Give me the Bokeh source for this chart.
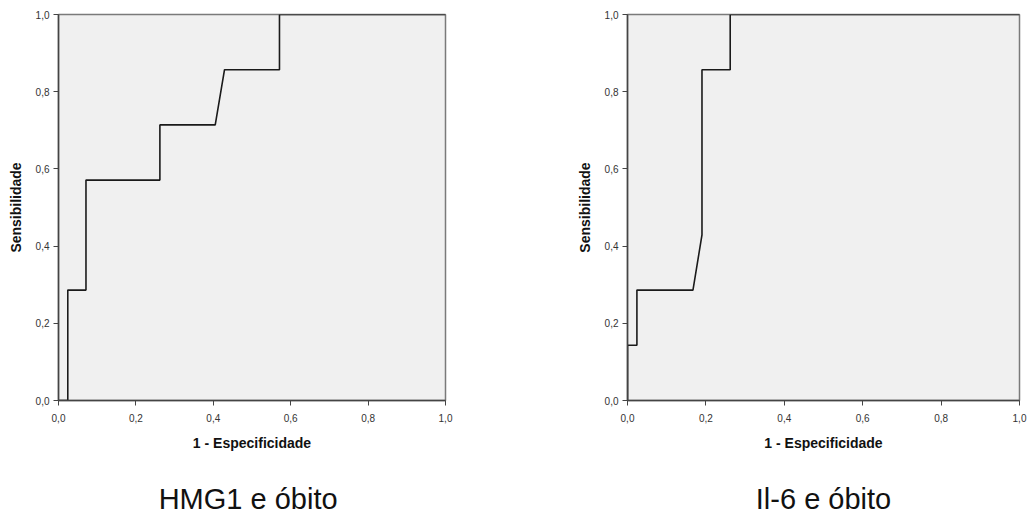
from bokeh.plotting import figure
from bokeh.layouts import row, column
from bokeh.models import Range1d, FixedTicker, CustomJSTickFormatter
from bokeh.core.properties import value
from bokeh.embed import file_html
from bokeh.resources import INLINE

# ---- data ----
tick_values = [0.0, 0.2, 0.4, 0.6, 0.8, 1.0]

hmg1_fpr = [0.0, 0.024, 0.024, 0.071, 0.071, 0.262, 0.262, 0.405, 0.429, 0.571, 0.571, 1.0]
hmg1_tpr = [0.0, 0.0, 0.286, 0.286, 0.571, 0.571, 0.714, 0.714, 0.857, 0.857, 1.0, 1.0]

il6_fpr = [0.0, 0.0, 0.024, 0.024, 0.167, 0.190, 0.190, 0.262, 0.262, 1.0]
il6_tpr = [0.0, 0.143, 0.143, 0.286, 0.286, 0.429, 0.857, 0.857, 1.0, 1.0]

x_label = "1 - Especificidade"
y_label = "Sensibilidade"
titles = ["HMG1 e óbito", "Il-6 e óbito"]

FONT = "Liberation Sans"
TOP_H = 470
TITLE_H = 45


def make_fig(fpr, tpr, width, bl, br, bt, bb):
    p = figure(width=width, height=TOP_H,
               min_border_left=bl, min_border_right=br,
               min_border_top=bt, min_border_bottom=bb,
               x_range=Range1d(0, 1), y_range=Range1d(0, 1),
               output_backend="svg", toolbar_location=None)
    p.background_fill_color = "#f0f0f0"
    p.border_fill_color = "white"
    p.outline_line_color = "#7a7a7a"
    p.outline_line_width = 1.5
    p.xgrid.visible = False
    p.ygrid.visible = False

    fmt = CustomJSTickFormatter(code="return tick.toFixed(1).replace('.', ',');")
    for ax in (p.xaxis[0], p.yaxis[0]):
        ax.ticker = FixedTicker(ticks=tick_values)
        ax.formatter = fmt
        ax.minor_tick_line_color = None
        ax.major_tick_in = 0
        ax.major_tick_out = 5
        ax.major_tick_line_color = "#444444"
        ax.axis_line_color = "#444444"
        ax.axis_line_width = 1.5
        ax.major_label_text_font = FONT
        ax.major_label_text_font_size = "10px"
        ax.major_label_text_color = "#333333"
        ax.major_label_standoff = 4
        ax.axis_label_text_font = FONT
        ax.axis_label_text_font_size = "14px"
        ax.axis_label_text_font_style = "bold"
        ax.axis_label_text_color = "#111111"
        ax.axis_label_standoff = 10
    p.xaxis.major_label_standoff = 8
    p.xaxis.axis_label = x_label
    p.yaxis.axis_label = y_label
    p.yaxis.axis_label_standoff = 9

    p.line(fpr, tpr, line_color="#1a1a1a", line_width=1.6)
    return p


def make_title(text, xc, width, bl, br):
    t = figure(width=width, height=TITLE_H,
               min_border_left=bl, min_border_right=br,
               min_border_top=0, min_border_bottom=0,
               x_range=Range1d(0, 1), y_range=Range1d(0, 1),
               output_backend="svg", toolbar_location=None)
    t.axis.visible = False
    t.grid.visible = False
    t.outline_line_color = None
    t.background_fill_color = "white"
    t.title.visible = False
    # anchored at the top of the strip, pushed down in pixels
    t.text(x=[xc], y=[1.0], text=[text], text_align="center",
           text_baseline="top", y_offset=12, text_font=value(FONT),
           text_font_size="29px", text_color="#111111")
    return t


p1 = make_fig(hmg1_fpr, hmg1_tpr, 520, 58, 75, 14, 67)
p2 = make_fig(il6_fpr, il6_tpr, 509, 107, 10, 8, 70)
t1 = make_title(titles[0], 0.49, 520, 58, 75)
t2 = make_title(titles[1], 0.5, 509, 107, 10)

layout = column(row(p1, p2, spacing=0), row(t1, t2, spacing=0), spacing=0)

open("out.html", "w").write(file_html(layout, INLINE))
